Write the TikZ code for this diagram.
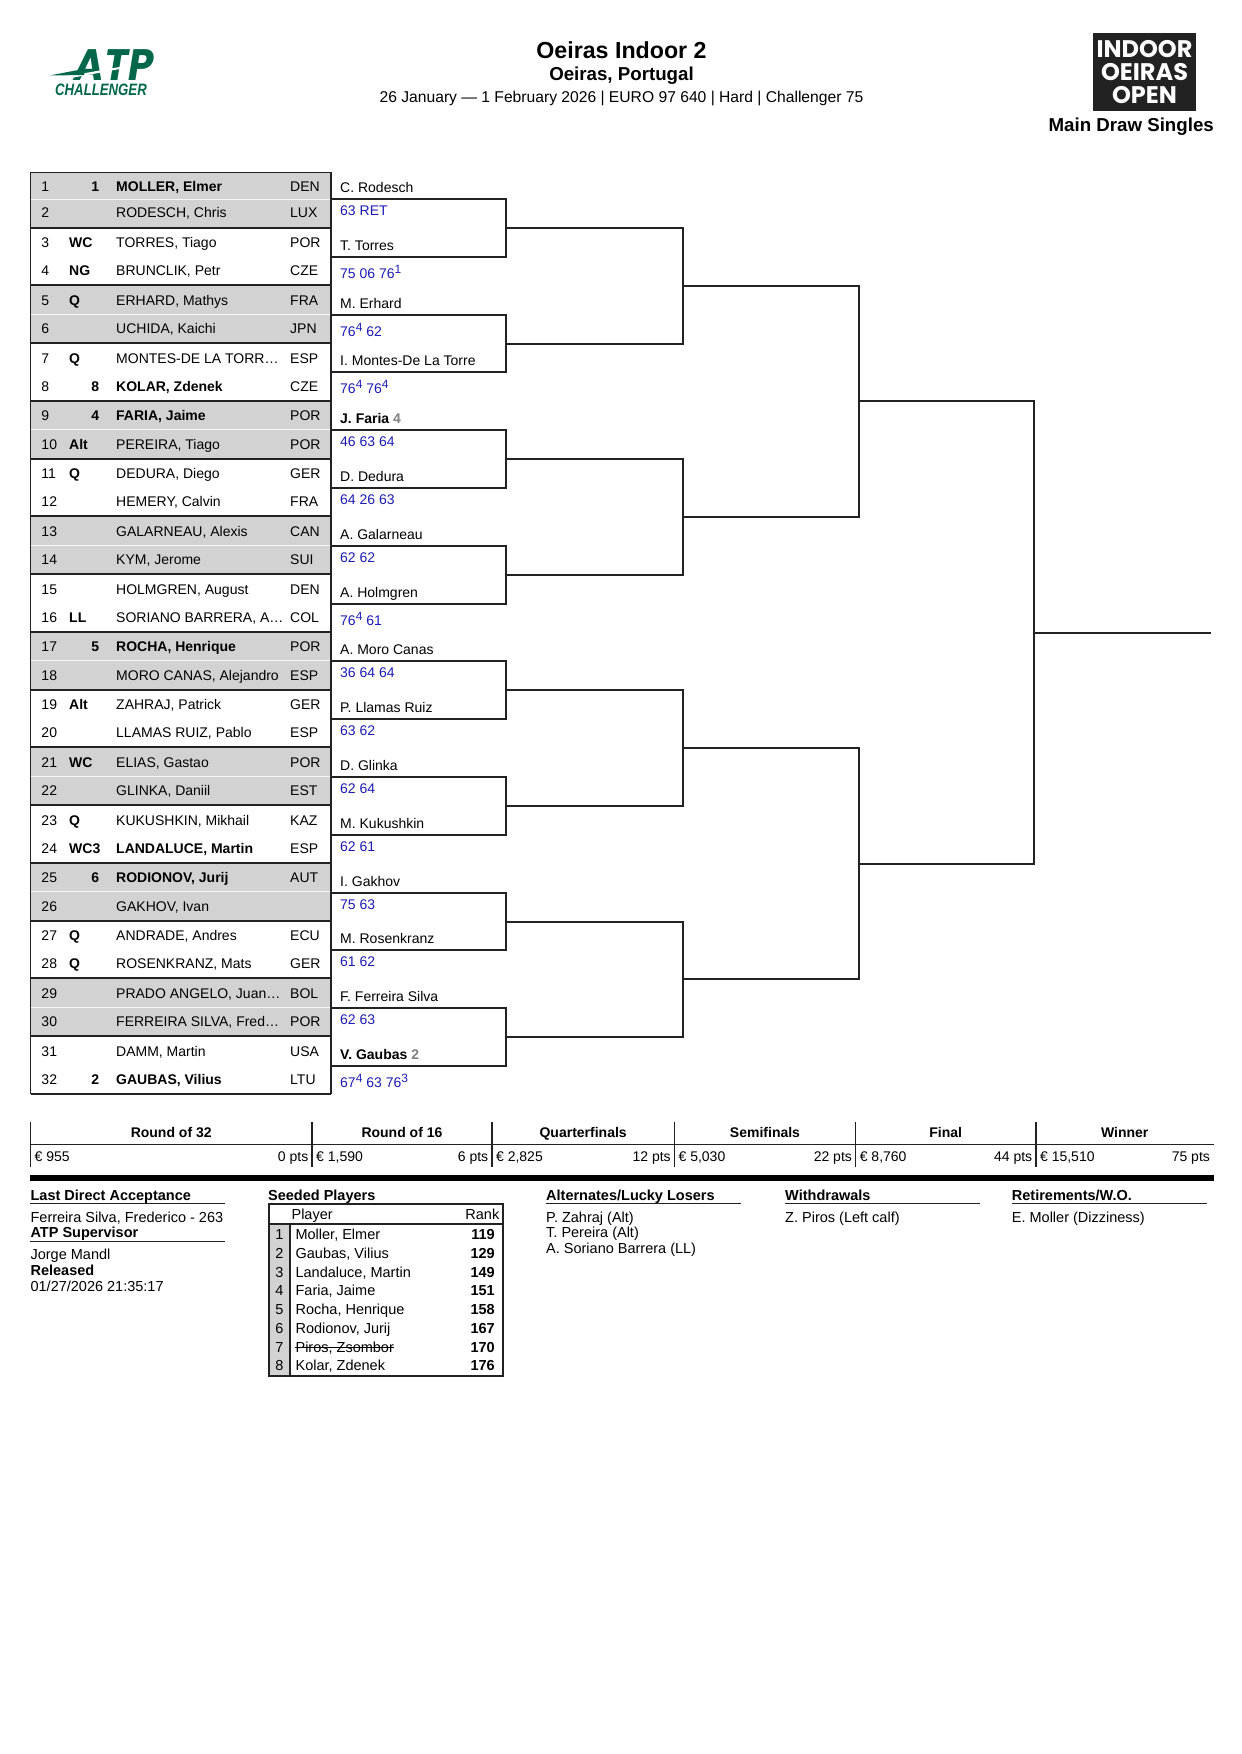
\documentclass[tikz,border=0pt]{standalone}
\usepackage{fontspec}
\setmainfont{Liberation Sans}
\newfontfamily\logofont{Poppins}
\usepackage{tikz}
\usetikzlibrary{positioning,calc}
\definecolor{scoreblue}{HTML}{1C1CB4}
\definecolor{rowgray}{HTML}{D2D2D2}
\definecolor{atpgreen}{HTML}{00674B}
\definecolor{linedark}{HTML}{222222}
\newcommand{\fs}[1]{\fontsize{#1}{#1}\selectfont}
\newcommand{\tb}[1]{\raisebox{5pt}{\fs{12}#1}}
\newcommand{\sdg}[1]{\textcolor{gray}{#1}}
\tikzset{
  cell/.style={inner sep=0pt,anchor=base west,font=\fs{14}},
  cellr/.style={inner sep=0pt,anchor=base east,font=\fs{14}},
  bracket/.style={draw=linedark,line width=2pt},
  tabline/.style={draw=linedark,line width=1.8pt},
  headb/.style={inner sep=0pt,anchor=base west,font=\fs{14.5}\bfseries},
  small/.style={inner sep=0pt,anchor=base west,font=\fs{14.5}},
}
\begin{document}
\begin{tikzpicture}[x=1pt,y=-1pt]
\useasboundingbox (0,0) rectangle (1242,1754);
% title
\node [inner sep=0pt,anchor=base,font=\fs{23.2}\bfseries] (title) at (621.5,58) {Oeiras Indoor 2};
\node [inner sep=0pt,anchor=base,font=\fs{18.7}\bfseries] (place) at (621.5,80) {Oeiras, Portugal};
\node [inner sep=0pt,anchor=base,font=\fs{15.65}] (dates) at (621.5,102) {26 January — 1 February 2026 | EURO 97 640 | Hard | Challenger 75};
\node [inner sep=0pt,anchor=base east,font=\fs{18.7}\bfseries] (drawname) at (1214,131) {Main Draw Singles};
% logos
\node [inner sep=0pt,anchor=base,font=\logofont\fs{44}\bfseries\itshape,text=atpgreen] (atp) at (114,80.7) {\scalebox{.92}[1]{ATP}};
\fill [white] (60,77.5) -- (128,65.5) -- (128,67.5) -- (60,80) -- cycle;
\fill [atpgreen] (49.5,75.5) -- (86,68.5) -- (84,75) -- cycle;
\node [inner sep=0pt,anchor=base,font=\fs{16.5}\bfseries\itshape,text=atpgreen] (chall) at (101,95) {\scalebox{.8}[1]{CHALLENGER}};
\fill [linedark] (1092.7,33) rectangle (1196,110.7);
\node [inner sep=0pt,anchor=base,font=\logofont\fs{24}\bfseries,text=white] (in1) at (1144.5,57.3) {INDOOR};
\node [inner sep=0pt,anchor=base,font=\logofont\fs{24}\bfseries,text=white] (in2) at (1144.5,80.7) {OEIRAS};
\node [inner sep=0pt,anchor=base,font=\logofont\fs{24}\bfseries,text=white] (in3) at (1144.5,103.7) {OPEN};
% shaded groups of the draw table
\fill [rowgray] (30.5,172.5) rectangle (331,228);
\draw [white!85!rowgray,line width=.6pt] (30.5,199) -- (331,199);
\foreach \k in {3,5,...,15} {
  \fill [rowgray] (30.5,{round(227.5+57.75*(\k-2))}) rectangle (331,{round(227.5+57.75*(\k-1))});
  \draw [white!85!rowgray,line width=.6pt] (30.5,{198.5+57.75*(\k-1)}) -- (331,{198.5+57.75*(\k-1)});
}
\foreach \k in {1,...,16} {
  \draw [tabline] (30.5,{round(227.5+57.75*(\k-1))}) -- (331,{round(227.5+57.75*(\k-1))});
}
\draw [tabline] (331,1094) -- (331,172.5) -- (30.5,172.5) -- (30.5,1094);
% draw table rows
\foreach \n/\e/\s/\p/\c [evaluate=\n as \y using {228.1+57.75*(ceil(\n/2)-2)+(mod(\n,2)==1 ? 19.5 : 47.7)+(\n==1 ? 1.5 : 0)+(\n==2 ? -1 : 0)}] in {
  1//1/\bfseries{MOLLER, Elmer}/DEN,
  2///{RODESCH, Chris}/LUX,
  3/WC//{TORRES, Tiago}/POR,
  4/NG//{BRUNCLIK, Petr}/CZE,
  5/Q//{ERHARD, Mathys}/FRA,
  6///{UCHIDA, Kaichi}/JPN,
  7/Q//{MONTES-DE LA TORR\ldots}/ESP,
  8//8/\bfseries{KOLAR, Zdenek}/CZE,
  9//4/\bfseries{FARIA, Jaime}/POR,
  10/Alt//{PEREIRA, Tiago}/POR,
  11/Q//{DEDURA, Diego}/GER,
  12///{HEMERY, Calvin}/FRA,
  13///{GALARNEAU, Alexis}/CAN,
  14///{KYM, Jerome}/SUI,
  15///{HOLMGREN, August}/DEN,
  16/LL//{SORIANO BARRERA, A\ldots}/COL,
  17//5/\bfseries{ROCHA, Henrique}/POR,
  18///{MORO CANAS, Alejandro}/ESP,
  19/Alt//{ZAHRAJ, Patrick}/GER,
  20///{LLAMAS RUIZ, Pablo}/ESP,
  21/WC//{ELIAS, Gastao}/POR,
  22///{GLINKA, Daniil}/EST,
  23/Q//{KUKUSHKIN, Mikhail}/KAZ,
  24/WC3//\bfseries{LANDALUCE, Martin}/ESP,
  25//6/\bfseries{RODIONOV, Jurij}/AUT,
  26///{GAKHOV, Ivan}/,
  27/Q//{ANDRADE, Andres}/ECU,
  28/Q//{ROSENKRANZ, Mats}/GER,
  29///{PRADO ANGELO, Juan\ldots}/BOL,
  30///{FERREIRA SILVA, Fred\ldots}/POR,
  31///{DAMM, Martin}/USA,
  32//2/\bfseries{GAUBAS, Vilius}/LTU} {
  \node [cell] (num\n) at (41.3,\y) {\n};
  \node [cell,font=\fs{14}\bfseries] (ent\n) at (69,\y) {\e};
  \node [cellr,font=\fs{14}\bfseries] (seed\n) at (99.3,\y) {\s};
  \node [cell] (ply\n) at (116,\y) {\p};
  \node [cell] (cty\n) at (290,\y) {\c};
}
% bracket
\foreach \i in {1,...,16} {
  \coordinate (a\i) at (331,{round(199+57.8*(\i-1))});
}
\foreach \i [evaluate=\i as \j using int(2*\i-1), evaluate=\i as \k using int(2*\i)] in {1,...,8} {
  \coordinate (b\i) at ($(a\j)!.5!(a\k)+(175,0)$);
  \draw [bracket] (a\j) -| (b\i);
  \draw [bracket] (a\k) -| (b\i);
}
\foreach \i [evaluate=\i as \j using int(2*\i-1), evaluate=\i as \k using int(2*\i)] in {1,...,4} {
  \coordinate (c\i) at ($(b\j)!.5!(b\k)+(176.5,0)$);
  \draw [bracket] (b\j) -| (c\i);
  \draw [bracket] (b\k) -| (c\i);
}
\foreach \i [evaluate=\i as \j using int(2*\i-1), evaluate=\i as \k using int(2*\i)] in {1,2} {
  \coordinate (d\i) at ($(c\j)!.5!(c\k)+(176.5,0)$);
  \draw [bracket] (c\j) -| (d\i);
  \draw [bracket] (c\k) -| (d\i);
}
\coordinate (e1) at ($(d1)!.5!(d2)+(175,0)$);
\draw [bracket] (d1) -| (e1);
\draw [bracket] (d2) -| (e1);
\coordinate (f1) at ($(e1)+(177,0)$);
\draw [bracket] (e1) -- (f1);
% winners and scores
\foreach \i/\w/\r/\o in {
  1/{C. Rodesch}/{63 RET}/16.4,
  2/{T. Torres}/{75 06 76\tb{1}}/21.8,
  3/{M. Erhard}/{76\tb{4} 62}/21.8,
  4/{I. Montes-De La Torre}/{76\tb{4} 76\tb{4}}/21.8,
  5/{\textbf{J. Faria \sdg{4}}}/{46 63 64}/16.4,
  6/{D. Dedura}/{64 26 63}/16.4,
  7/{A. Galarneau}/{62 62}/16.4,
  8/{A. Holmgren}/{76\tb{4} 61}/21.8,
  9/{A. Moro Canas}/{36 64 64}/16.4,
  10/{P. Llamas Ruiz}/{63 62}/16.4,
  11/{D. Glinka}/{62 64}/16.4,
  12/{M. Kukushkin}/{62 61}/16.4,
  13/{I. Gakhov}/{75 63}/16.4,
  14/{M. Rosenkranz}/{61 62}/16.4,
  15/{F. Ferreira Silva}/{62 63}/16.4,
  16/{\textbf{V. Gaubas \sdg{2}}}/{67\tb{4} 63 76\tb{3}}/21.8} {
  \node [cell] (win\i) at ($(a\i)+(9,-6.5)$) {\w};
  \node [cell,text=scoreblue] (scr\i) at ($(a\i)+(9,\o)$) {\r};
}
% prize money
\foreach \x/\u/\t/\m/\q in {
  30.4/312/Round of 32/955/0,
  312/491.9/Round of 16/{1,590}/6,
  491.9/674.4/Quarterfinals/{2,825}/12,
  674.4/855.6/Semifinals/{5,030}/22,
  855.6/1035.9/Final/{8,760}/44,
  1035.9/1213.6/Winner/{15,510}/75} {
  \node [inner sep=0pt,anchor=base,font=\fs{14}\bfseries] (rnd\q) at ({(\x+\u)/2},1137) {\t};
  \node [cell] (eur\q) at (\x+4,1161) {€ \m};
  \node [cellr] (pts\q) at (\u-3.5,1161) {\q{} pts};
  \draw [tabline,line width=1.5pt] (\x,1122) -- (\x,1166.7);
}
\draw [tabline,line width=1.5pt] (30.4,1144.5) -- (1213.6,1144.5);
\fill [black] (30,1175) rectangle (1213.6,1181.3);
% notes below
\node [headb] (lda) at (30.4,1200) {Last Direct Acceptance};
\draw [tabline,line width=1.5pt] (30.4,1203.7) -- (225,1203.7);
\node [small] (ldat) at (30.4,1222) {Ferreira Silva, Frederico - 263};
\node [headb] (sup) at (30.4,1237) {ATP Supervisor};
\draw [tabline,line width=1.5pt] (30.4,1241.3) -- (225,1241.3);
\node [small] (supt) at (30.4,1259) {Jorge Mandl};
\node [headb] (rel) at (30.4,1275) {Released};
\node [small] (relt) at (30.4,1291) {01/27/2026 21:35:17};
% seeds
\node [headb] (sds) at (268,1200) {Seeded Players};
\fill [rowgray] (269.3,1224) rectangle (289.8,1375.7);
\draw [tabline] (269.3,1203.7) rectangle (503,1375.7);
\draw [tabline] (269.3,1224) -- (503,1224);
\draw [tabline] (289.8,1224) -- (289.8,1375.7);
\node [small] (sdp) at (291.4,1219) {Player};
\node [small,anchor=base east] (sdr) at (499.5,1219) {Rank};
\foreach \n/\p/\r/\y in {
  1/{Moller, Elmer}/119/1239,
  2/{Gaubas, Vilius}/129/1258,
  3/{Landaluce, Martin}/149/1277,
  4/{Faria, Jaime}/151/1295,
  5/{Rocha, Henrique}/158/1314,
  6/{Rodionov, Jurij}/167/1333,
  7/{Piros, Zsombor}/170/1352,
  8/{Kolar, Zdenek}/176/1370} {
  \node [small,anchor=base] (sdn\n) at (279.5,\y) {\n};
  \node [small] (sdm\n) at (295.4,\y) {\p};
  \node [small,anchor=base east,font=\fs{14.5}\bfseries] (sdk\n) at (495,\y) {\r};
}
\draw [line width=.9pt] (sdm7.west) -- (sdm7.east);
% other lists
\node [headb] (alt) at (546,1200) {Alternates/Lucky Losers};
\draw [tabline,line width=1.5pt] (546,1203.7) -- (740.6,1203.7);
\node [small] (alt1) at (546,1222) {P. Zahraj (Alt)};
\node [small] (alt2) at (546,1237) {T. Pereira (Alt)};
\node [small] (alt3) at (546,1253) {A. Soriano Barrera (LL)};
\node [headb] (wdr) at (785,1200) {Withdrawals};
\draw [tabline,line width=1.5pt] (785,1203.7) -- (980.3,1203.7);
\node [small] (wdr1) at (785,1222) {Z. Piros (Left calf)};
\node [headb] (ret) at (1011.7,1200) {Retirements/W.O.};
\draw [tabline,line width=1.5pt] (1011.7,1203.7) -- (1207,1203.7);
\node [small] (ret1) at (1011.7,1222) {E. Moller (Dizziness)};
\end{tikzpicture}
\end{document}
